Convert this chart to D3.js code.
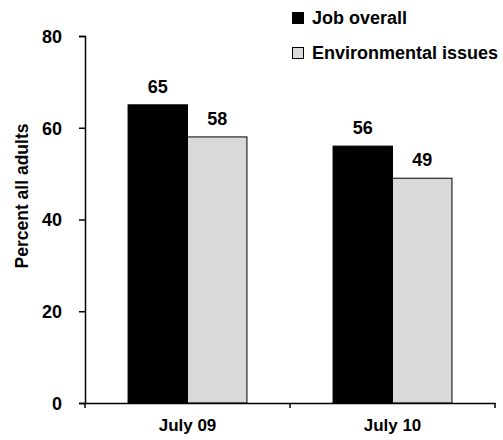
<!DOCTYPE html>
<html>
<head>
<meta charset="utf-8">
<script src="https://cdn.jsdelivr.net/npm/d3@7"></script>
<style>
  html, body { margin: 0; padding: 0; background: #fff; }
  svg { display: block; }
  text { font-family: "Liberation Sans", Arial, sans-serif; font-weight: bold; fill: #000; }
</style>
</head>
<body>
<svg id="chart" width="503" height="440"></svg>
<script>
// Chart data
const categories = ["July 09", "July 10"];
const seriesNames = ["Job overall", "Environmental issues"];
const jobOverall = [65, 56];
const environmentalIssues = [58, 49];
const yTicks = [0, 20, 40, 60, 80];

const seriesValues = [jobOverall, environmentalIssues];
const seriesFill = ["#000000", "#d9d9d9"];

const svg = d3.select("#chart");
const margin = { left: 85, right: 8, top: 36, bottom: 37 };
const width = 503, height = 440;

const x = d3.scaleBand()
  .domain(categories)
  .range([margin.left, width - margin.right])
  .paddingInner(0)
  .paddingOuter(0);

const y = d3.scaleLinear()
  .domain([0, 80])
  .range([height - margin.bottom, margin.top]);

const barW = x.bandwidth() * 0.29;
const xs = d3.scaleBand()
  .domain(seriesNames)
  .range([x.bandwidth() / 2 - barW, x.bandwidth() / 2 + barW]);

// Bars with value labels
const groups = svg.append("g")
  .selectAll("g")
  .data(categories)
  .join("g")
  .attr("transform", d => `translate(${x(d)},0)`);

seriesNames.forEach((name, si) => {
  groups.append("rect")
    .attr("x", xs(name))
    .attr("width", xs.bandwidth())
    .attr("y", (d, i) => y(seriesValues[si][i]))
    .attr("height", (d, i) => y(0) - y(seriesValues[si][i]))
    .attr("fill", seriesFill[si])
    .attr("stroke", "#000")
    .attr("stroke-width", 1);

  groups.append("text")
    .attr("x", xs(name) + xs.bandwidth() / 2)
    .attr("y", (d, i) => y(seriesValues[si][i]) - 12)
    .attr("text-anchor", "middle")
    .style("font-size", "18px")
    .text((d, i) => seriesValues[si][i]);
});

// Y axis
const yAxis = svg.append("g")
  .attr("transform", `translate(${margin.left},0)`)
  .call(d3.axisLeft(y).tickValues(yTicks).tickSize(6).tickPadding(17));
yAxis.select(".domain").attr("stroke", "#000").attr("stroke-width", 1.5);
yAxis.selectAll(".tick line").attr("stroke-width", 1.5);
yAxis.selectAll("text").style("font-size", "18px").attr("dy", "0.35em");

// X axis
const xAxis = svg.append("g")
  .attr("transform", `translate(0,${y(0)})`)
  .call(d3.axisBottom(x).tickSize(0).tickPadding(16));
xAxis.select(".domain").attr("stroke", "#000").attr("stroke-width", 1.5);
xAxis.selectAll("text").style("font-size", "17px");
// Boundary ticks between categories
const boundaries = [x.range()[0], x(categories[1]), x.range()[1]];
xAxis.selectAll(".bound")
  .data(boundaries)
  .join("line")
  .attr("class", "bound")
  .attr("x1", d => d).attr("x2", d => d)
  .attr("y1", 0).attr("y2", 5)
  .attr("stroke", "#000").attr("stroke-width", 1.5);

// Y axis title
svg.append("text")
  .attr("transform", "translate(28,196) rotate(-90)")
  .attr("text-anchor", "middle")
  .style("font-size", "17.5px")
  .text("Percent all adults");

// Legend
const legend = svg.append("g").attr("transform", "translate(292,0)");
seriesNames.forEach((name, i) => {
  const row = legend.append("g").attr("transform", `translate(0,${24 + i * 35})`);
  row.append("rect")
    .attr("x", 0.5).attr("y", -11.5)
    .attr("width", 11).attr("height", 11)
    .attr("fill", seriesFill[i])
    .attr("stroke", "#000").attr("stroke-width", 1);
  row.append("text")
    .attr("x", 20).attr("y", 0)
    .style("font-size", "18px")
    .text(name);
});
</script>
</body>
</html>
